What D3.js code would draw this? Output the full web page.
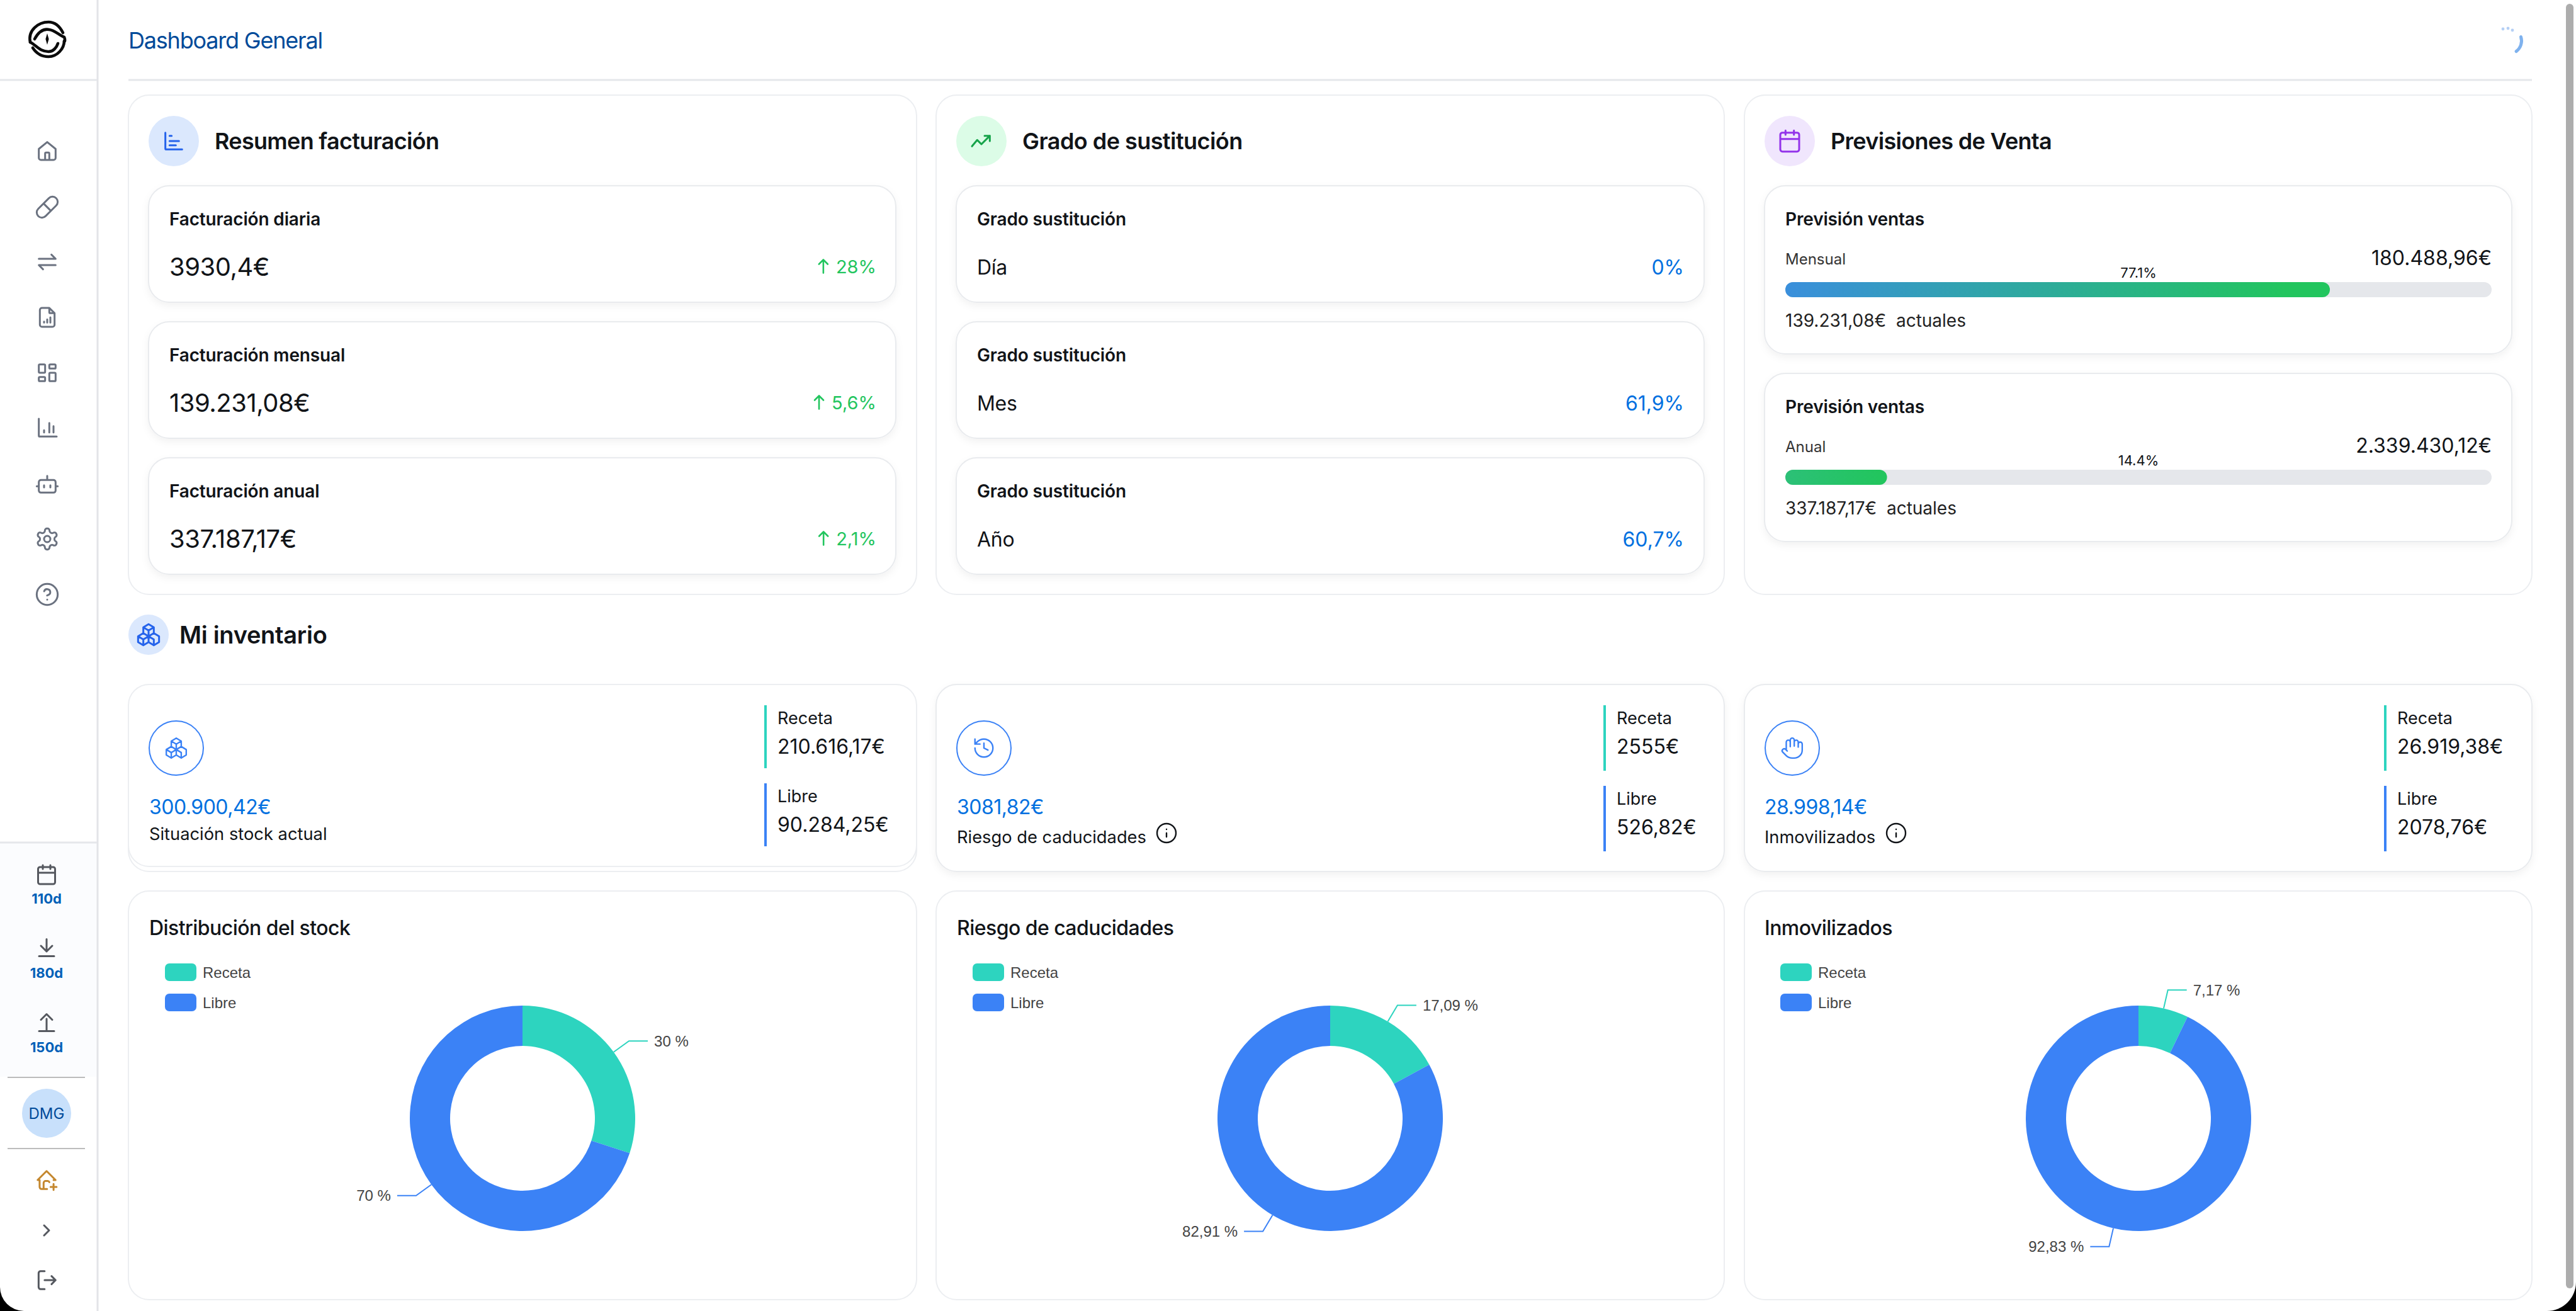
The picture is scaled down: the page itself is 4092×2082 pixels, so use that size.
<!DOCTYPE html>
<meta charset="utf-8">
<style>
  html, body { margin: 0; padding: 0; background: #fff; }
  svg { display: block; font-family: Inter, "Noto Sans", sans-serif; }
</style>

<!-- Load d3.js -->
<script src="https://cdnjs.cloudflare.com/ajax/libs/d3/7.3.0/d3.min.js"></script>

<div id="dash"></div>

<script>
    // ---- values ----
    const pageTitle = "Dashboard General";

    const billingTitle = "Resumen facturación";
    const billingLabels = ["Facturación diaria", "Facturación mensual", "Facturación anual"];
    const billingValues = ["3930,4€", "139.231,08€", "337.187,17€"];
    const billingChanges = ["28%", "5,6%", "2,1%"];

    const substitutionTitle = "Grado de sustitución";
    const substitutionLabel = "Grado sustitución";
    const substitutionPeriods = ["Día", "Mes", "Año"];
    const substitutionValues = ["0%", "61,9%", "60,7%"];

    const forecastTitle = "Previsiones de Venta";
    const forecastLabel = "Previsión ventas";
    const forecastPeriods = ["Mensual", "Anual"];
    const forecastTargets = ["180.488,96€", "2.339.430,12€"];
    const forecastActuals = ["139.231,08€", "337.187,17€"];
    const forecastPercent = [77.1, 14.4];

    const inventoryTitle = "Mi inventario";
    const stockNames = ["Situación stock actual", "Riesgo de caducidades", "Inmovilizados"];
    const stockTotals = ["300.900,42€", "3081,82€", "28.998,14€"];
    const stockReceta = ["210.616,17€", "2555€", "26.919,38€"];
    const stockLibre = ["90.284,25€", "526,82€", "2078,76€"];

    const donutTitles = ["Distribución del stock", "Riesgo de caducidades", "Inmovilizados"];
    const seriesNames = ["Receta", "Libre"];
    const recetaShare = [30, 17.09, 7.17];
    const libreShare = [70, 82.91, 92.83];

    const counterLabels = ["110d", "180d", "150d"];
    const userInitials = "DMG";

    // ---- colours ----
    const teal = "#2dd4bf", blue = "#3b82f6", green = "#22c55e", valueBlue = "#0070e0",
        navy = "#004a99", grey = "#6b7280", ink = "#111418";

    // ---- icons, all on a 24 unit grid ----
    const ICONS = {
        home: "M4 10.5 12 4l8 6.5V19a2 2 0 0 1-2 2H6a2 2 0 0 1-2-2z M10 21v-6a1 1 0 0 1 1-1h2a1 1 0 0 1 1 1v6",
        pill: "M10.5 20.5l10-10a4.95 4.95 0 1 0-7-7l-10 10a4.95 4.95 0 1 0 7 7z M8.5 8.5l7 7",
        arrows: "M4 9h16l-4-4 M20 15H4l4 4",
        file: "M14 3v4a1 1 0 0 0 1 1h4 M17 21H7a2 2 0 0 1-2-2V5a2 2 0 0 1 2-2h7l5 5v11a2 2 0 0 1-2 2z M9 17v-1 M12 17v-3 M15 17v-5",
        dash: "M5 4h4a1 1 0 0 1 1 1v6a1 1 0 0 1-1 1H5a1 1 0 0 1-1-1V5a1 1 0 0 1 1-1z M5 16h4a1 1 0 0 1 1 1v2a1 1 0 0 1-1 1H5a1 1 0 0 1-1-1v-2a1 1 0 0 1 1-1z M15 12h4a1 1 0 0 1 1 1v6a1 1 0 0 1-1 1h-4a1 1 0 0 1-1-1v-6a1 1 0 0 1 1-1z M15 4h4a1 1 0 0 1 1 1v2a1 1 0 0 1-1 1h-4a1 1 0 0 1-1-1V5a1 1 0 0 1 1-1z",
        chart: "M4 3v16a1 1 0 0 0 1 1h16 M9 16v-2 M14 16V7 M18 16v-6",
        hbars: "M4 4v15a1 1 0 0 0 1 1h15 M8 7h2 M8 12h9 M8 16h6",
        bot: "M12 8V4 M6 8h12a2 2 0 0 1 2 2v8a2 2 0 0 1-2 2H6a2 2 0 0 1-2-2v-8a2 2 0 0 1 2-2z M2 14h2 M20 14h2 M15 13v2 M9 13v2",
        gear: "M12.22 2h-.44a2 2 0 0 0-2 2v.18a2 2 0 0 1-1 1.73l-.43.25a2 2 0 0 1-2 0l-.15-.08a2 2 0 0 0-2.73.73l-.22.38a2 2 0 0 0 .73 2.73l.15.1a2 2 0 0 1 1 1.72v.51a2 2 0 0 1-1 1.74l-.15.09a2 2 0 0 0-.73 2.73l.22.38a2 2 0 0 0 2.73.73l.15-.08a2 2 0 0 1 2 0l.43.25a2 2 0 0 1 1 1.73V20a2 2 0 0 0 2 2h.44a2 2 0 0 0 2-2v-.18a2 2 0 0 1 1-1.73l.43-.25a2 2 0 0 1 2 0l.15.08a2 2 0 0 0 2.73-.73l.22-.39a2 2 0 0 0-.73-2.73l-.15-.08a2 2 0 0 1-1-1.74v-.5a2 2 0 0 1 1-1.74l.15-.09a2 2 0 0 0 .73-2.73l-.22-.38a2 2 0 0 0-2.73-.73l-.15.08a2 2 0 0 1-2 0l-.43-.25a2 2 0 0 1-1-1.73V4a2 2 0 0 0-2-2z M12 9a3 3 0 1 0 0 6a3 3 0 1 0 0-6z",
        help: "M12 2a10 10 0 1 0 0 20a10 10 0 1 0 0-20z M9.09 9a3 3 0 0 1 5.83 1c0 2-3 3-3 3 M12 17h.01",
        trend: "M3 17l5-6 4 4 8-8 M15 7h5v5",
        calendar: "M8 2v4 M16 2v4 M5 4h14a2 2 0 0 1 2 2v14a2 2 0 0 1-2 2H5a2 2 0 0 1-2-2V6a2 2 0 0 1 2-2z M3 10h18",
        boxes: "M7 16.5l-5-3 5-3 5 3v5.5l-5 3z M2 13.5v5.5l5 3 M7 16.545l5-3.03 M17 16.5l-5-3 5-3 5 3v5.5l-5 3z M12 19l5 3 M17 16.5v5.5l5-3v-5.5 M12 13.5v-5.5l-5-3 5-3 5 3v5.5 M7 5.03v5.455 M12 8l5-3",
        history: "M3 12a9 9 0 1 0 9-9 9.75 9.75 0 0 0-6.74 2.74L3 8 M3 3v5h5 M12 7v5l4 2",
        hand: "M18 11V6a2 2 0 0 0-4 0 M14 10V4a2 2 0 0 0-4 0v2 M10 10.5V6a2 2 0 0 0-4 0v8 M18 8a2 2 0 1 1 4 0v6a8 8 0 0 1-8 8h-2c-2.8 0-4.5-.86-5.99-2.34l-3.6-3.6a2 2 0 0 1 2.83-2.82L7 15",
        info: "M12 2a10 10 0 1 0 0 20a10 10 0 1 0 0-20z M12 16v-4 M12 8h.01",
        down: "M12 3v13 M6 10l6 6 6-6 M4 21h16",
        up: "M12 21V8 M6 9l6-6 6 6 M4 21h16",
        homeplus: "M19 12h2l-9-9-9 9h2v7a2 2 0 0 0 2 2h5.5 M9 21v-6a2 2 0 0 1 2-2h2a2 2 0 0 1 1.8 1.1 M16 19h6 M19 16v6",
        chevron: "M9 6l6 6-6 6",
        logout: "M10 3H6a2 2 0 0 0-2 2v14a2 2 0 0 0 2 2h4 M10 12h11 M17 8l4 4-4 4",
        arrowUp: "M12 21V3 M6 9l6-6 6 6"
    };

    var svg = d3.select("#dash")
        .append("svg")
        .attr("width", 4092)
        .attr("height", 2082);

    var defs = svg.append("defs");

    var shadow = defs.append("filter").attr("id", "shadow")
        .attr("x", "-5%").attr("y", "-10%").attr("width", "110%").attr("height", "125%");
    shadow.append("feDropShadow")
        .attr("dx", 0).attr("dy", 5).attr("stdDeviation", 6)
        .attr("flood-color", "#000").attr("flood-opacity", 0.05);

    // one gradient per forecast bar
    const barGradients = [["#3a8fdc", green], ["#2cc077", green]];
    barGradients.forEach(function (stops, i) {
        var g = defs.append("linearGradient").attr("id", "bar" + i)
            .attr("x1", "0%").attr("y1", "0%").attr("x2", "100%").attr("y2", "0%");
        g.append("stop").attr("offset", 0).attr("stop-color", stops[0]);
        g.append("stop").attr("offset", 0.92).attr("stop-color", stops[1]);
    });

    svg.append("rect").attr("width", 4092).attr("height", 2082).attr("fill", "#fff");

    // ---- helpers ----
    function label(str, x, y, size, weight, color, anchor, spacing) {
        return svg.append("text")
            .attr("x", x).attr("y", y)
            .attr("dominant-baseline", "central")
            .attr("text-anchor", anchor || "start")
            .attr("font-size", size)
            .attr("font-weight", weight)
            .attr("letter-spacing", spacing || 0)
            .attr("fill", color)
            .text(str);
    }

    function icon(name, cx, cy, size, color, sw) {
        var k = size / 24;
        svg.append("path")
            .attr("d", ICONS[name])
            .attr("transform", "translate(" + (cx - size / 2) + "," + (cy - size / 2) + ") scale(" + k + ")")
            .attr("fill", "none")
            .attr("stroke", color)
            .attr("stroke-width", sw / k)
            .attr("stroke-linecap", "round")
            .attr("stroke-linejoin", "round");
    }

    function card(x, y, w, h, lifted) {
        var r = svg.append("rect")
            .attr("x", x).attr("y", y).attr("width", w).attr("height", h)
            .attr("rx", 33).attr("ry", 33)
            .attr("fill", "#fff")
            .attr("stroke", lifted ? "#e9ebee" : "#eceef1")
            .attr("stroke-width", 2);
        if (lifted) r.attr("filter", "url(#shadow)");
    }

    function badge(cx, cy, r, fill, name, color) {
        svg.append("circle").attr("cx", cx).attr("cy", cy).attr("r", r).attr("fill", fill);
        icon(name, cx, cy, 40, color, 3);
    }

    // ---- sidebar ----
    svg.append("rect").attr("x", 0).attr("y", 1338).attr("width", 154).attr("height", 372).attr("fill", "#fbfcfe");
    svg.append("line").attr("x1", 155).attr("x2", 155).attr("y1", 0).attr("y2", 2082)
        .attr("stroke", "#e3e4e8").attr("stroke-width", 3);
    svg.append("line").attr("x1", 0).attr("x2", 154).attr("y1", 127).attr("y2", 127)
        .attr("stroke", "#e5e7eb").attr("stroke-width", 3);
    svg.append("line").attr("x1", 0).attr("x2", 154).attr("y1", 1338).attr("y2", 1338)
        .attr("stroke", "#e5e7eb").attr("stroke-width", 3);

    // logo
    var logo = svg.append("g")
        .attr("transform", "translate(75,62)")
        .attr("fill", "none").attr("stroke", "#0b0b0b")
        .attr("stroke-width", 4.6).attr("stroke-linecap", "round");
    logo.append("path").attr("d", "M-27 5C-31 -14 -14 -27 2 -27C12 -27 20 -20 25 -10");
    logo.append("path").attr("d", "M-20 0C-14 -11 -7 -17 3 -15C12 -14 19 -6 27 -3C29 1 28 4 27 4");
    logo.append("path").attr("d", "M-27 5C-17 10 -12 20 2 20C10 20 15 13 17 7");
    logo.append("path").attr("d", "M-23 14C-17 23 -8 28 2 28C16 28 27 15 27 3");
    logo.append("path").attr("d", "M0 -9L2.6 0L0 9L-2.6 0Z").attr("fill", "#0b0b0b").attr("stroke", "none");

    const navIcons = ["home", "pill", "arrows", "file", "dash", "chart", "bot", "gear", "help"];
    const navY = [239, 329, 416, 504, 592, 680, 769, 856, 944];
    navIcons.forEach(function (n, i) { icon(n, 75, navY[i], 40, grey, 3); });

    const counterIcons = ["calendar", "down", "up"];
    const counterIconY = [1389, 1505, 1624], counterTextY = [1427, 1545, 1663];
    counterLabels.forEach(function (t, i) {
        icon(counterIcons[i], 74, counterIconY[i], 36, "#55585f", 3);
        label(t, 74, counterTextY[i], 22, 700, "#0060b8", "middle");
    });

    [1711, 1824].forEach(function (y) {
        svg.append("line").attr("x1", 12).attr("x2", 135).attr("y1", y).attr("y2", y)
            .attr("stroke", "#bcbcbc").attr("stroke-width", 2);
    });
    svg.append("circle").attr("cx", 74).attr("cy", 1768).attr("r", 39).attr("fill", "#c8e0fb");
    label(userInitials, 74, 1768, 24, 400, navy, "middle");
    icon("homeplus", 74, 1874, 38, "#c4872e", 3);
    icon("chevron", 74, 1954, 32, "#55585f", 3);
    icon("logout", 74, 2033, 38, "#55585f", 3);

    // ---- header ----
    label(pageTitle, 204, 64, 36, 400, navy, "start", -1.2);
    svg.append("line").attr("x1", 204).attr("x2", 4022).attr("y1", 127).attr("y2", 127)
        .attr("stroke", "#e5e7eb").attr("stroke-width", 3);

    // spinner
    var spinnerArc = d3.arc().innerRadius(18).outerRadius(23).cornerRadius(2.5);
    svg.append("path")
        .attr("transform", "translate(3985,65)")
        .attr("d", spinnerArc({ startAngle: Math.PI * 0.36, endAngle: Math.PI * 0.84 }))
        .attr("fill", "#7fb2ee");
    [[3976, 46], [3984, 45], [3991, 48]].forEach(function (p) {
        svg.append("circle").attr("cx", p[0]).attr("cy", p[1]).attr("r", 2.4).attr("fill", "#b5d0f5");
    });

    // ---- column frames, shared by the three rows ----
    const colX = [204, 1487, 2771];
    const colW = [1252, 1252, 1251];
    const innerX = [236, 1519, 2803];
    const innerW = [1187, 1188, 1187];
    const textX = [269, 1552, 2836];

    // ---- top row ----
    colX.forEach(function (x, i) { card(x, 151, colW[i], 793); });

    badge(276, 224, 40, "#dbe8fd", "hbars", "#2563eb");
    label(billingTitle, 341, 224, 36, 600, ink, "start", -0.7);
    badge(1559, 224, 40, "#dcfce7", "trend", "#16a34a");
    label(substitutionTitle, 1624, 224, 36, 600, ink, "start", -0.55);
    badge(2843, 224, 40, "#f0e6fd", "calendar", "#9333ea");
    label(forecastTitle, 2908, 224, 36, 600, ink, "start", -0.7);

    const rowY = [295, 511, 727];
    billingLabels.forEach(function (t, i) {
        var y = rowY[i];
        card(innerX[0], y, innerW[0], 185, true);
        label(t, textX[0], y + 53, 28, 600, ink, "start", -0.15);
        label(billingValues[i], textX[0], y + 128, 40, 400, ink, "start", -0.5);
        var pct = label(billingChanges[i], 1392, y + 128, 29, 400, green, "end");
        var w = pct.node().getComputedTextLength();
        icon("arrowUp", 1392 - w - 20, y + 128, 28, green, 2.6);
    });

    substitutionPeriods.forEach(function (t, i) {
        var y = rowY[i];
        card(innerX[1], y, innerW[1], 185, true);
        label(substitutionLabel, textX[1], y + 53, 28, 600, ink, "start", -0.15);
        label(t, textX[1], y + 129, 32, 400, ink, "start", -0.3);
        label(substitutionValues[i], 2675, y + 129, 32, 400, valueBlue, "end");
    });

    // forecast bars
    const forecastY = [295, 593];
    var barX = d3.scaleLinear().domain([0, 100]).range([2836, 3958]);
    forecastPeriods.forEach(function (t, i) {
        var y = forecastY[i];
        card(innerX[2], y, innerW[2], 267, true);
        label(forecastLabel, textX[2], y + 53, 28, 600, ink, "start", -0.15);
        label(t, textX[2], y + 116, 24, 400, "#333");
        label(forecastTargets[i], 3958, y + 114, 32, 400, ink, "end");
        label(forecastPercent[i] + "%", 3397, y + 138, 22, 400, ink, "middle");
        svg.append("rect")
            .attr("x", barX(0)).attr("y", y + 153)
            .attr("width", barX(100) - barX(0)).attr("height", 24)
            .attr("rx", 12).attr("fill", "#e5e7eb");
        svg.append("rect")
            .attr("x", barX(0)).attr("y", y + 153)
            .attr("width", barX(forecastPercent[i]) - barX(0)).attr("height", 24)
            .attr("rx", 12).attr("fill", "url(#bar" + i + ")");
        label(forecastActuals[i] + "\u00a0\u00a0actuales", textX[2], y + 214, 28, 400, "#222");
    });

    // ---- inventory ----
    badge(236, 1008, 32, "#dbe8fd", "boxes", "#2563eb");
    label(inventoryTitle, 285, 1008, 38, 600, ink, "start", -0.3);

    const stockIcons = ["boxes", "history", "hand"];
    const stockIconX = [280, 1563, 2847];
    const stockTextX = [237, 1520, 2803];
    const splitX = [1216, 2549, 3789];
    const splitDown = [0, 4, 4]; // the first card sits a little tighter
    const infoX = [null, 1853, 3012];

    colX.forEach(function (x, i) {
        if (i == 0) {
            // the first card has a second sheet peeking out underneath
            card(x, 1100, colW[i], 284);
            card(x, 1087, colW[i], 289);
        } else {
            card(x, 1087, colW[i], 297, true);
        }
        svg.append("circle").attr("cx", stockIconX[i]).attr("cy", 1188).attr("r", 43)
            .attr("fill", "#fff").attr("stroke", blue).attr("stroke-width", 2);
        icon(stockIcons[i], stockIconX[i], 1188, 38, blue, 2.4);

        label(stockTotals[i], stockTextX[i], 1281, 32, 400, valueBlue, "start", -0.5);
        label(stockNames[i], stockTextX[i], i == 0 ? 1324 : 1329, 27.3, 400, ink);
        if (infoX[i]) icon("info", infoX[i], 1323, 36, ink, 2.4);

        var d = splitDown[i];
        svg.append("rect").attr("x", splitX[i] - 2).attr("y", 1120).attr("width", 4).attr("height", 100 + d).attr("fill", teal);
        svg.append("rect").attr("x", splitX[i] - 2).attr("y", 1244 + d).attr("width", 4).attr("height", 100 + d).attr("fill", blue);
        var tx = splitX[i] + 19;
        label(seriesNames[0], tx, 1140, 27, 400, ink);
        label(stockReceta[i], tx, 1185, 32, 400, ink);
        label(seriesNames[1], tx, 1264 + d, 27, 400, ink);
        label(stockLibre[i], tx, 1309 + d, 32, 400, ink);
    });

    // ---- donut charts ----
    const seriesColors = [teal, blue];
    const outerR = 179, innerR = 115, labelR = 209, tail = 30;
    const donutCx = [830, 2113, 3397];

    var pie = d3.pie().sort(null);
    var arc = d3.arc().innerRadius(innerR).outerRadius(outerR);
    var edge = d3.arc().innerRadius(outerR).outerRadius(outerR);
    var elbow = d3.arc().innerRadius(labelR).outerRadius(labelR);

    donutTitles.forEach(function (title, i) {
        card(colX[i], 1415, colW[i], 649);
        label(title, stockTextX[i], 1473, 32, 500, ink, "start", -0.55);

        seriesNames.forEach(function (s, k) {
            var y = 1530 + k * 48;
            svg.append("rect").attr("x", stockTextX[i] + 25).attr("y", y)
                .attr("width", 50).attr("height", 28).attr("rx", 7).attr("fill", seriesColors[k]);
            label(s, stockTextX[i] + 85, y + 14, 24, 400, "#444")
                .attr("font-family", "'Liberation Sans', Arial, sans-serif");
        });

        var values = [recetaShare[i], libreShare[i]];
        var g = svg.append("g").attr("transform", "translate(" + donutCx[i] + ",1776)");

        g.selectAll("path.slice")
            .data(pie(values))
            .enter().append("path")
            .attr("class", "slice")
            .attr("d", arc)
            .attr("fill", function (d, k) { return seriesColors[k]; });

        g.selectAll("path.leader")
            .data(pie(values))
            .enter().append("path")
            .attr("class", "leader")
            .attr("fill", "none")
            .attr("stroke", function (d, k) { return seriesColors[k]; })
            .attr("stroke-width", 2)
            .attr("d", function (d) {
                var a = edge.centroid(d), b = elbow.centroid(d);
                var dir = b[0] >= 0 ? 1 : -1;
                return d3.line()([a, b, [b[0] + dir * tail, b[1]]]);
            });

        g.selectAll("text")
            .data(pie(values))
            .enter().append("text")
            .attr("x", function (d) {
                var b = elbow.centroid(d);
                return b[0] >= 0 ? b[0] + tail + 10 : b[0] - tail - 10;
            })
            .attr("y", function (d) { return elbow.centroid(d)[1]; })
            .attr("dominant-baseline", "central")
            .attr("text-anchor", function (d) { return elbow.centroid(d)[0] >= 0 ? "start" : "end"; })
            .attr("font-family", "'Liberation Sans', Arial, sans-serif")
            .attr("font-size", 24)
            .attr("fill", "#444")
            .text(function (d) { return String(d.value).replace(".", ",") + " %"; });
    });

    // ---- scrollbar and the window's rounded corners ----
    svg.append("rect").attr("x", 4076).attr("y", 6).attr("width", 12).attr("height", 2040)
        .attr("rx", 6).attr("fill", "#adadad");
    svg.append("path").attr("d", "M0 2044V2082H38A38 38 0 0 1 0 2044Z").attr("fill", "#000");
    svg.append("path").attr("d", "M4092 2036V2082H4046A46 46 0 0 0 4092 2036Z").attr("fill", "#000");
</script>
